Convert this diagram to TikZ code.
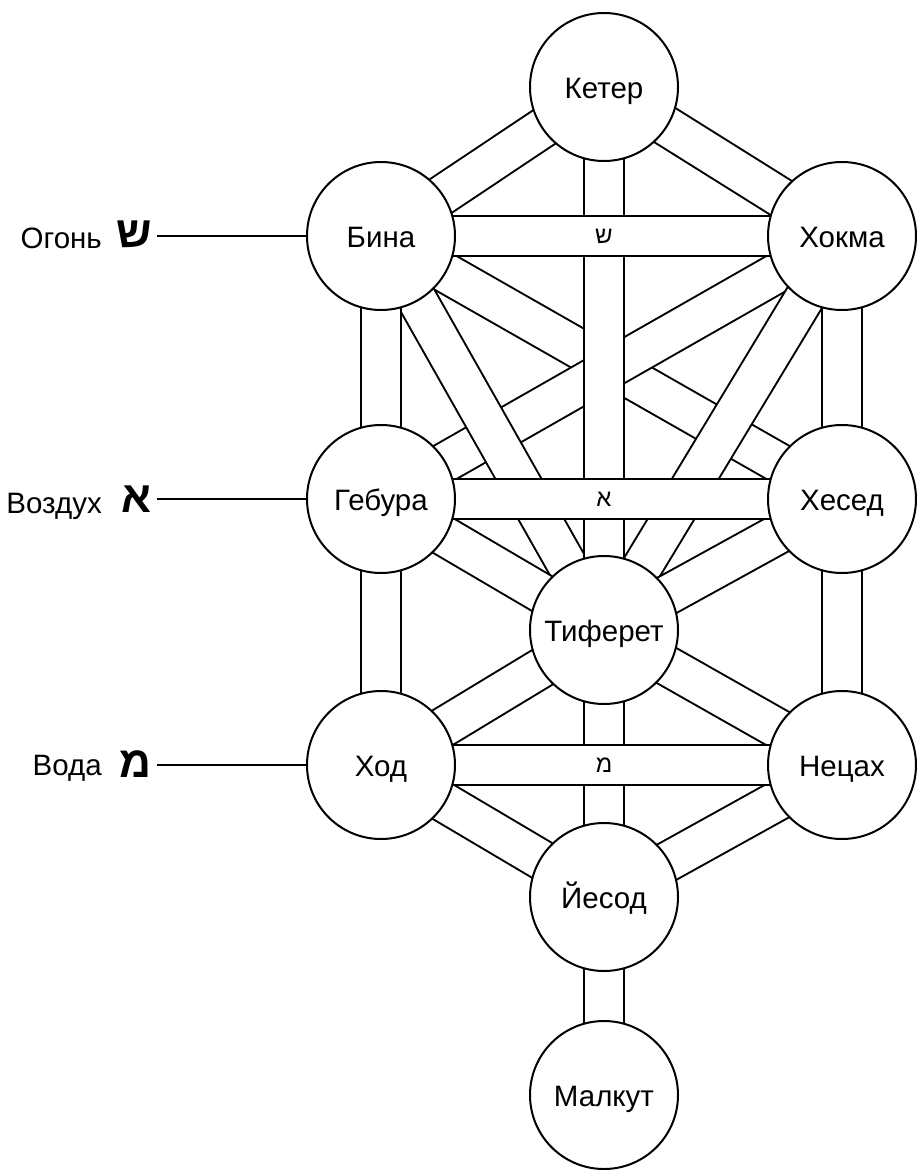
\documentclass[tikz,border=0pt]{standalone}
\usepackage{fontspec}
\setmainfont{Liberation Sans}
\newfontfamily\hebfont[Script=Hebrew]{Liberation Sans}
\pgfdeclarelayer{bg}
\pgfsetlayers{bg,main}
\begin{document}
\begin{tikzpicture}[x=1pt,y=-1pt,
  seph/.style={circle, draw=black, line width=2pt, fill=white, minimum size=148pt, inner sep=0pt,
    text height=23pt, text depth=1pt, font=\fontsize{29.5}{33}\selectfont},
  band/.style={draw=black, line width=2pt, double=white, double distance=38pt},
  lab/.style={inner sep=0pt, font=\fontsize{29.5}{33}\selectfont},
  bighebr/.style={inner sep=0pt, font=\hebfont\bfseries\fontsize{44}{48}\selectfont},
  smallhebr/.style={inner sep=0pt, font=\hebfont\fontsize{24}{28}\selectfont},
  labline/.style={draw=black, line width=1.3pt}]
\useasboundingbox (0,0) rectangle (917,1170);
% sephiroth
\node[seph] (keter)   at (604,87)   {Кетер};
\node[seph] (bina)    at (381,236)  {Бина};
\node[seph] (hokma)   at (842,236)  {Хокма};
\node[seph] (gebura)  at (381,499)  {Гебура};
\node[seph] (hesed)   at (842,499)  {Хесед};
\node[seph] (tiferet) at (604,630)  {Тиферет};
\node[seph] (hod)     at (381,765)  {Ход};
\node[seph] (netzach) at (842,765)  {Нецах};
\node[seph] (yesod)   at (604,897)  {Йесод};
\node[seph] (malkut)  at (604,1095) {Малкут};
% paths
\begin{pgfonlayer}{bg}
\draw[band] (keter.center) -- (bina.center);
\draw[band] (keter.center) -- (hokma.center);
\draw[band] (bina.center) -- (hesed.center);
\draw[band] (hokma.center) -- (gebura.center);
\draw[band] (bina.center) -- (tiferet.center);
\draw[band] (hokma.center) -- (tiferet.center);
\draw[band] (gebura.center) -- (tiferet.center);
\draw[band] (hesed.center) -- (tiferet.center);
\draw[band] (tiferet.center) -- (hod.center);
\draw[band] (tiferet.center) -- (netzach.center);
\draw[band] (hod.center) -- (yesod.center);
\draw[band] (netzach.center) -- (yesod.center);
\draw[band] (keter.center) -- (tiferet.center);
\draw[band] (tiferet.center) -- (yesod.center);
\draw[band] (yesod.center) -- (malkut.center);
\draw[band] (bina.center) -- (gebura.center);
\draw[band] (gebura.center) -- (hod.center);
\draw[band] (hokma.center) -- (hesed.center);
\draw[band] (hesed.center) -- (netzach.center);
\draw[band] (bina.center) -- (hokma.center);
\draw[band] (gebura.center) -- (hesed.center);
\draw[band] (hod.center) -- (netzach.center);
\end{pgfonlayer}
% letters on the horizontal paths
\node[smallhebr] (shinpath)  at (604,236) {ש};
\node[smallhebr] (alephpath) at (604,499) {א};
\node[smallhebr] (mempath)   at (604,765) {מ};
% elements
\node[lab, anchor=base east] (fire)  at (102,248) {Огонь};
\node[lab, anchor=base east] (air)   at (102,513) {Воздух};
\node[lab, anchor=base east] (water) at (102,775) {Вода};
\node[bighebr, anchor=base east] (shinbig)  at (152,247) {ש};
\node[bighebr, anchor=base east] (alephbig) at (152,512) {א};
\node[bighebr, anchor=base east] (membig)   at (152,777) {מ};
\draw[labline] ([xshift=5pt]shinbig.east |- bina.west) -- (bina.west);
\draw[labline] ([xshift=5pt]alephbig.east |- gebura.west) -- (gebura.west);
\draw[labline] ([xshift=5pt]membig.east |- hod.west) -- (hod.west);
\end{tikzpicture}
\end{document}
